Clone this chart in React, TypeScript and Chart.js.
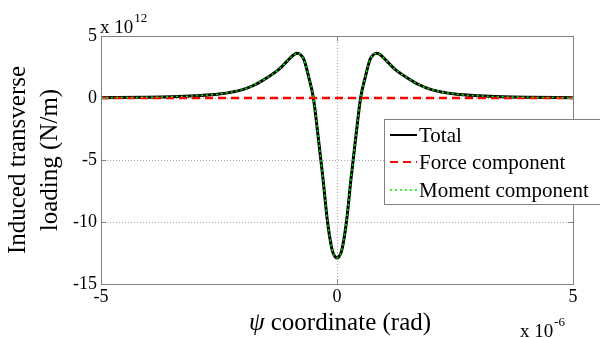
import React, { useEffect, useRef } from 'react';
import { Chart, registerables } from 'chart.js';

Chart.register(...registerables);

// psi coordinate (x 10^-6 rad)
const psiValues = [-5, -4, -3.5, -3, -2.5, -2, -1.75, -1.5, -1.25, -1.1, -1.0, -0.9, -0.85, -0.8, -0.75, -0.7, -0.6, -0.5, -0.4, -0.3, -0.2, -0.1, -0.05, 0, 0.05, 0.1, 0.2, 0.3, 0.4, 0.5, 0.6, 0.7, 0.75, 0.8, 0.85, 0.9, 1.0, 1.1, 1.25, 1.5, 1.75, 2, 2.5, 3, 3.5, 4, 5];

// loading (x 10^12 N/m)
const totalValues = [0.02, 0.06, 0.1, 0.18, 0.32, 0.68, 1.05, 1.6, 2.25, 2.8, 3.2, 3.52, 3.6, 3.57, 3.4, 3.1, 1.7, 0, -3.1, -6.4, -10.0, -12.3, -12.75, -12.9, -12.75, -12.3, -10.0, -6.4, -3.1, 0, 1.7, 3.1, 3.4, 3.57, 3.6, 3.52, 3.2, 2.8, 2.25, 1.6, 1.05, 0.68, 0.32, 0.18, 0.1, 0.06, 0.02];
const forceValues = [0, 0, 0, 0, 0, 0, 0, 0, 0, 0, 0, 0, 0, 0, 0, 0, 0, 0, 0, 0, 0, 0, 0, 0, 0, 0, 0, 0, 0, 0, 0, 0, 0, 0, 0, 0, 0, 0, 0, 0, 0, 0, 0, 0, 0, 0, 0];
const momentValues = [0.02, 0.06, 0.1, 0.18, 0.32, 0.68, 1.05, 1.6, 2.25, 2.8, 3.2, 3.52, 3.6, 3.57, 3.4, 3.1, 1.7, 0, -3.1, -6.4, -10.0, -12.3, -12.75, -12.9, -12.75, -12.3, -10.0, -6.4, -3.1, 0, 1.7, 3.1, 3.4, 3.57, 3.6, 3.52, 3.2, 2.8, 2.25, 1.6, 1.05, 0.68, 0.32, 0.18, 0.1, 0.06, 0.02];

const seriesLabels = ['Total', 'Force component', 'Moment component'];
const xTicks = [-5, 0, 5];
const yTicks = [-15, -10, -5, 0, 5];
const yTitleLines = ['Induced transverse', 'loading (N/m)'];
const xTitleSymbol = 'ψ';
const xTitleRest = ' coordinate (rad)';
const yExponent = '12';
const xExponent = '-6';

const FONT = '"Liberation Serif", "Times New Roman", serif';

const toPoints = (ys: number[]) => psiValues.map((x, i) => ({ x, y: ys[i] }));

const decorPlugin = {
  id: 'decor',
  afterDatasetsDraw(chart: any) {
    const { ctx, chartArea: a, scales } = chart;
    ctx.save();
    ctx.setLineDash([]);
    ctx.strokeStyle = '#808080';
    ctx.lineWidth = 1;
    ctx.strokeRect(Math.round(a.left) + 0.5, Math.round(a.top) + 0.5, Math.round(a.right - a.left), Math.round(a.bottom - a.top));
    const tl = 5;
    ctx.beginPath();
    xTicks.forEach((v) => {
      const px = Math.round(scales.x.getPixelForValue(v)) + 0.5;
      ctx.moveTo(px, a.bottom);
      ctx.lineTo(px, a.bottom - tl);
      ctx.moveTo(px, a.top);
      ctx.lineTo(px, a.top + tl);
    });
    yTicks.forEach((v) => {
      const py = Math.round(scales.y.getPixelForValue(v)) + 0.5;
      ctx.moveTo(a.left, py);
      ctx.lineTo(a.left + tl, py);
      ctx.moveTo(a.right, py);
      ctx.lineTo(a.right - tl, py);
    });
    ctx.stroke();
    ctx.restore();
  },
  afterDraw(chart: any) {
    const { ctx } = chart;
    ctx.save();
    ctx.fillStyle = '#000';
    // legend
    const lx = 384, ly = 119, lw = 240, lh = 85;
    ctx.fillStyle = '#fff';
    ctx.fillRect(lx, ly, lw, lh);
    ctx.strokeStyle = '#808080';
    ctx.lineWidth = 1;
    ctx.setLineDash([]);
    ctx.strokeRect(lx + 0.5, ly + 0.5, lw, lh);
    const rows = [135, 162, 190];
    chart.data.datasets.forEach((ds: any, i: number) => {
      const y = rows[i];
      ctx.save();
      ctx.strokeStyle = ds.borderColor;
      ctx.lineWidth = i === 2 ? 1.5 : 2;
      ctx.setLineDash(ds.borderDash || []);
      ctx.beginPath();
      ctx.moveTo(390, y);
      ctx.lineTo(417, y);
      ctx.stroke();
      ctx.restore();
      ctx.fillStyle = '#000';
      ctx.font = `21px ${FONT}`;
      ctx.textAlign = 'left';
      ctx.textBaseline = 'middle';
      ctx.fillText(ds.label, 419, y + 1);
    });
    // y title
    ctx.fillStyle = '#000';
    ctx.font = `25px ${FONT}`;
    ctx.textAlign = 'center';
    ctx.textBaseline = 'middle';
    const cy = (chart.chartArea.top + chart.chartArea.bottom) / 2;
    [18, 50].forEach((cx, i) => {
      ctx.save();
      ctx.translate(cx, cy);
      ctx.rotate(-Math.PI / 2);
      ctx.fillText(yTitleLines[i], 0, 0);
      ctx.restore();
    });
    // x title
    ctx.textBaseline = 'alphabetic';
    ctx.textAlign = 'left';
    ctx.font = `italic 25px ${FONT}`;
    const w1 = ctx.measureText(xTitleSymbol).width;
    ctx.font = `25px ${FONT}`;
    const w2 = ctx.measureText(xTitleRest).width;
    const startX = 340 - (w1 + w2) / 2;
    ctx.font = `italic 25px ${FONT}`;
    ctx.fillText(xTitleSymbol, startX, 330);
    ctx.font = `25px ${FONT}`;
    ctx.fillText(xTitleRest, startX + w1, 330);
    // exponents
    ctx.font = `19px ${FONT}`;
    ctx.fillText('x 10', 100, 33);
    const e1 = ctx.measureText('x 10').width;
    ctx.font = `13px ${FONT}`;
    ctx.fillText(yExponent, 100 + e1 + 1, 22);
    ctx.font = `19px ${FONT}`;
    ctx.fillText('x 10', 520, 337);
    const e2 = ctx.measureText('x 10').width;
    ctx.font = `13px ${FONT}`;
    ctx.fillText(xExponent, 520 + e2 + 1, 326);
    ctx.restore();
  },
};

export default function App() {
  const canvasRef = useRef<HTMLCanvasElement | null>(null);

  useEffect(() => {
    if (!canvasRef.current) return;
    const gridCommon = {
      color: '#a8a8a8',
      lineWidth: 1,
      drawTicks: false,
    };
    const chart = new Chart(canvasRef.current, {
      type: 'line',
      data: {
        datasets: [
          {
            label: seriesLabels[0],
            data: toPoints(totalValues),
            borderColor: '#000000',
            borderWidth: 3,
            pointRadius: 0,
            cubicInterpolationMode: 'monotone',
            order: 3,
          },
          {
            label: seriesLabels[1],
            data: toPoints(forceValues),
            borderColor: '#ff0000',
            borderWidth: 2.5,
            borderDash: [8, 5],
            pointRadius: 0,
            order: 2,
          },
          {
            label: seriesLabels[2],
            data: toPoints(momentValues),
            borderColor: '#00ee00',
            borderWidth: 1.5,
            borderDash: [2, 3],
            pointRadius: 0,
            cubicInterpolationMode: 'monotone',
            order: 1,
          },
        ],
      },
      options: {
        animation: false,
        responsive: false,
        devicePixelRatio: 1,
        layout: { padding: { left: 0, top: 36, right: 27, bottom: 0 } },
        plugins: { legend: { display: false }, tooltip: { enabled: false } },
        scales: {
          x: {
            type: 'linear',
            min: -5,
            max: 5,
            afterFit: (s: any) => { s.height = 54; },
            afterBuildTicks: (s: any) => { s.ticks = xTicks.map((v) => ({ value: v })); },
            grid: { ...gridCommon },
            border: { display: false, dash: [1, 2] },
            ticks: { color: '#000', padding: 2, maxRotation: 0, font: { family: FONT, size: 18 } },
          },
          y: {
            type: 'linear',
            min: -15,
            max: 5,
            afterFit: (s: any) => { s.width = 101; },
            afterBuildTicks: (s: any) => { s.ticks = yTicks.map((v) => ({ value: v })); },
            grid: { ...gridCommon },
            border: { display: false, dash: [1, 2] },
            ticks: { color: '#000', padding: 4, font: { family: FONT, size: 18 } },
          },
        },
      },
      plugins: [decorPlugin],
    } as any);
    return () => chart.destroy();
  }, []);

  return (
    <div style={{ position: 'absolute', left: 0, top: 0, width: 600, height: 338, background: '#fff' }}>
      <canvas ref={canvasRef} width={600} height={338} />
    </div>
  );
}
